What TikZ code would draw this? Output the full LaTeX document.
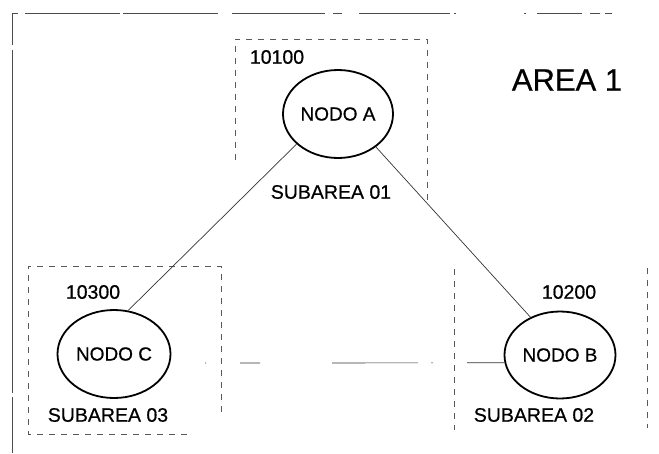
\documentclass[tikz,border=0pt]{standalone}
\usepackage{fontspec}
\setmainfont{Liberation Sans}[FakeBold=0.6]
\usetikzlibrary{shapes.geometric}
\begin{document}
\begin{tikzpicture}[x=1pt,y=-1pt,
  nodo/.style={draw=black,ellipse,line width=1.8pt,inner sep=0pt,font=\fontsize{19}{22}\selectfont},
  lbl/.style={font=\fontsize{19.5}{22}\selectfont,inner sep=0pt,text=black},
  sub/.style={draw=black!65,line width=0.9pt,dash pattern=on 6pt off 6pt},
  outer/.style={draw=black!70,line width=1pt},
  link/.style={draw=black!80,line width=0.7pt}]
\useasboundingbox (0,0) rectangle (659,453);
% outer area (only top and left edges visible)
\draw[outer] (12,45) -- (12,13) -- (18,13);
\draw[outer] (25,13) -- (120,13) (123,13) -- (218,13) (232,13) -- (325,13)
  (333,13) -- (342,13) (359,13) -- (450,13) (454,13) -- (456,13)
  (524,13) -- (526,13) (537,13) -- (582,13) (590,13) -- (600,13) (605,13) -- (612,13);
\draw[outer] (12,50) -- (12,393) (12,397) -- (12,453);
% subarea boxes
\draw[sub] (235,160) -- (235,39) -- (427,39) -- (427,200);
\draw[sub] (221,412) -- (221,266) -- (28,266) -- (28,434) -- (187,434);
\draw[sub] (454,269) -- (454,430);
\draw[sub] (647,268) -- (647,428);
% nodes
\node[nodo,minimum width=110pt,minimum height=88pt] (A) at (338,114) {NODO A};
\node[nodo,minimum width=113pt,minimum height=88pt] (C) at (114,354) {NODO C};
\node[nodo,minimum width=111pt,minimum height=87pt] (B) at (560,355) {NODO B};
% labels
\node[lbl] (a1) at (277,57) {10100};
\node[lbl] (s1) at (331,192) {SUBAREA 01};
\node[lbl,font=\fontsize{31}{36}\selectfont] (area) at (567,80) {AREA 1};
\node[lbl] (c1) at (93,292) {10300};
\node[lbl] (s3) at (108,415) {SUBAREA 03};
\node[lbl] (b1) at (569,292) {10200};
\node[lbl] (s2) at (534,415) {SUBAREA 02};
% connectors
\draw[link] (A.216) -- (C.72);
\draw[link] (A.319) -- (B.128);
\coordinate (hstart) at (205,363);
\draw[link,dash pattern=on 1pt off 34pt on 20pt off 72pt on 86pt off 13pt on 2pt off 34pt on 60pt] (hstart) -- (B.188);
\end{tikzpicture}
\end{document}
